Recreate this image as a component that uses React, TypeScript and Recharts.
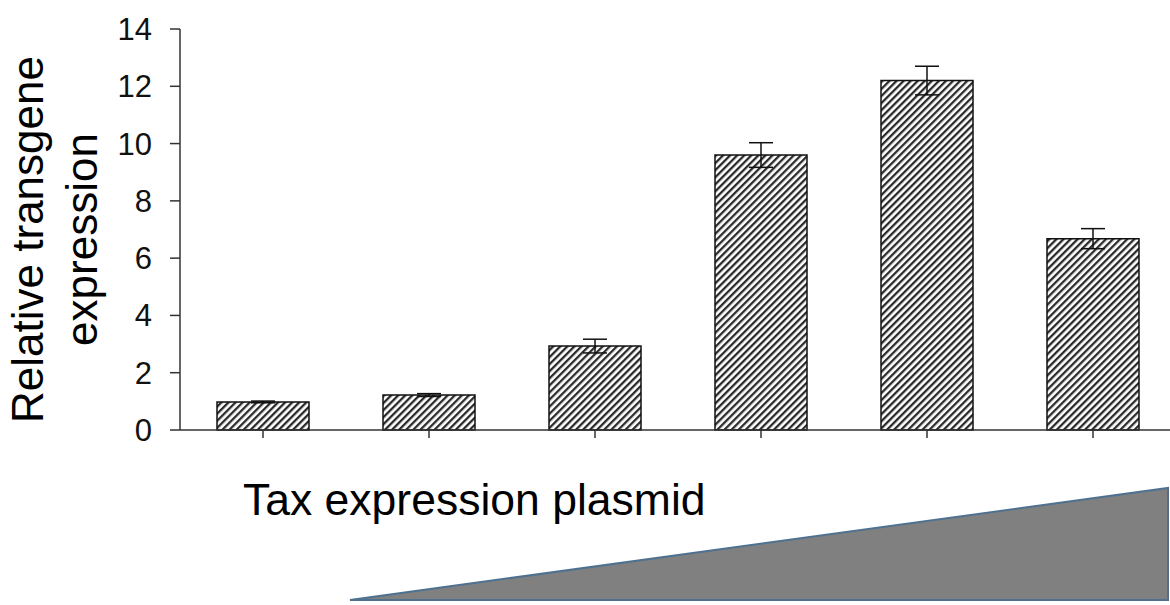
import React from 'react';
import { BarChart, Bar, XAxis, YAxis, ErrorBar } from 'recharts';

// Increasing amounts of Tax plasmid (no per-bar labels in the figure)
const doses = ['Dose 1', 'Dose 2', 'Dose 3', 'Dose 4', 'Dose 5', 'Dose 6'];
const expression = [0.98, 1.22, 2.93, 9.6, 12.2, 6.68];
const errors = [0.03, 0.05, 0.24, 0.43, 0.5, 0.35];
const yTicks = [0, 2, 4, 6, 8, 10, 12, 14];

const data = doses.map((dose, i) => ({
  dose,
  value: expression[i],
  err: errors[i],
}));

const FONT = '"Liberation Sans", Arial, Helvetica, sans-serif';
const AXIS = '#333';

function YTitle(props: any) {
  const { viewBox } = props;
  const cy = viewBox.y + viewBox.height / 2 + 10;
  return (
    <text
      transform={`translate(43, ${cy}) rotate(-90)`}
      textAnchor="middle"
      fontFamily={FONT}
      fontSize={44}
      fill="#000"
    >
      <tspan x={0} dy={0}>Relative transgene</tspan>
      <tspan x={0} dy={54}>expression</tspan>
    </text>
  );
}

// x-axis title plus the dose wedge underneath the plot
function XTitle(props: any) {
  const { viewBox } = props;
  const x0 = viewBox.x;
  const y0 = viewBox.y;
  const right = 1168;
  return (
    <g>
      <text x={x0 + 63} y={y0 + 85} fontFamily={FONT} fontSize={44.5} fill="#000">
        Tax expression plasmid
      </text>
      <polygon
        points={`${x0 + 170},${y0 + 170} ${right},${y0 + 170} ${right},${y0 + 58}`}
        fill="#808080"
        stroke="#4f7190"
        strokeWidth={2}
        strokeLinejoin="miter"
      />
    </g>
  );
}

export default function App() {
  return (
    <div style={{ position: 'absolute', left: 0, top: 0, width: 1170, height: 605, overflow: 'hidden', background: '#fff' }}>
      <BarChart
        width={1180}
        height={605}
        data={data}
        margin={{ top: 29, right: 4, left: 0, bottom: 85 }}
        barSize={92}
      >
        <defs>
          <pattern id="hatch" patternUnits="userSpaceOnUse" width={5} height={5} patternTransform="rotate(45)">
            <rect x={0} y={0} width={5} height={5} fill="#fff" />
            <rect x={0} y={0} width={2.3} height={5} fill="#2a2a2a" />
          </pattern>
        </defs>
        <XAxis
          dataKey="dose"
          height={90}
          axisLine={{ stroke: AXIS, strokeWidth: 1.5 }}
          tickLine={{ stroke: AXIS, strokeWidth: 1.5 }}
          tickSize={8}
          tickFormatter={() => ''}
          label={<XTitle />}
        />
        <YAxis
          width={180}
          domain={[0, 14]}
          ticks={yTicks}
          interval={0}
          axisLine={{ stroke: AXIS, strokeWidth: 1.5 }}
          tickLine={{ stroke: AXIS, strokeWidth: 1.5 }}
          tickSize={10}
          tickMargin={18}
          tick={{ fontFamily: FONT, fontSize: 31, fill: '#111' }}
          label={<YTitle />}
        />
        <Bar dataKey="value" fill="url(#hatch)" stroke="#111" strokeWidth={1.5} isAnimationActive={false}>
          <ErrorBar dataKey="err" direction="y" width={12} stroke="#111" strokeWidth={1.5} />
        </Bar>
      </BarChart>
    </div>
  );
}
